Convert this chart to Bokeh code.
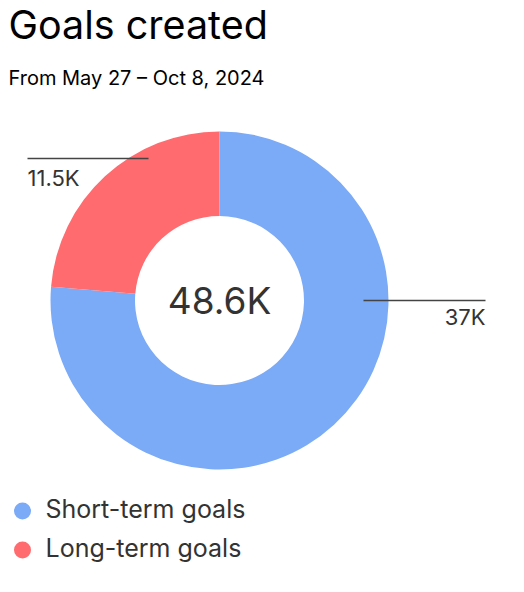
import math
from bokeh.plotting import figure
from bokeh.models import Range1d, ColumnDataSource
from bokeh.core.properties import value
from bokeh.embed import file_html
from bokeh.resources import INLINE

# ---- data ----
categories = ["Short-term goals", "Long-term goals"]
values = [37080, 11520]
value_labels = ["37K", "11.5K"]
total_label = "48.6K"
colors = ["#7BAAF7", "#FF6B6E"]
title_text = "Goals created"
subtitle_text = "From May 27 \u2013 Oct 8, 2024"

W, H = 524, 592
FONT = "Inter"

p = figure(width=W, height=H, output_backend="svg", toolbar_location=None,
           x_range=Range1d(0, W), y_range=Range1d(0, H),
           min_border=0, outline_line_color=None)
p.axis.visible = False
p.grid.visible = False
p.background_fill_color = "white"
p.border_fill_color = "white"

def Y(yp):
    return H - yp

def TY(baseline_px, size):
    # compensate for the svg backend's baseline placement
    return H - (baseline_px - 0.41 * size)

# donut
cx, cy = 219, Y(300)
total = sum(values)
frac_short = values[0] / total
frac_long = values[1] / total
starts = [math.pi / 2 - frac_short * 2 * math.pi, math.pi / 2]
ends = [math.pi / 2, math.pi / 2 + frac_long * 2 * math.pi]
src = ColumnDataSource(dict(x=[cx, cx], y=[cy, cy], start=starts, end=ends,
                            color=colors, cat=categories))
p.annular_wedge(x="x", y="y", inner_radius=84.5, outer_radius=169,
                start_angle="start", end_angle="end", color="color",
                line_color=None, source=src)

# title and subtitle
p.text(x=[8], y=[TY(41, 39.5)], text=[title_text], text_font=value(FONT),
       text_font_size="39.5px", text_color="#000000", text_baseline="alphabetic")
p.text(x=[8], y=[TY(85.5, 20)], text=[subtitle_text], text_font=value(FONT),
       text_font_size="20px", text_color="#000000", text_baseline="alphabetic")

# center total
p.text(x=[cx], y=[TY(315, 37)], text=[total_label], text_font=value(FONT),
       text_font_size="37px", text_color="#333333", text_align="center",
       text_baseline="alphabetic")

# value labels with leader lines
p.segment(x0=[27, 363], y0=[Y(158), Y(300)], x1=[148, 485], y1=[Y(158), Y(300)],
          line_color="#444444", line_width=1.6)
p.text(x=[27], y=[TY(187, 22)], text=[value_labels[1]], text_font=value(FONT),
       text_font_size="22px", text_color="#333333", text_align="left",
       text_baseline="alphabetic")
p.text(x=[485], y=[TY(326, 22)], text=[value_labels[0]], text_font=value(FONT),
       text_font_size="22px", text_color="#333333", text_align="right",
       text_baseline="alphabetic")

# legend
p.scatter(x=[22, 22], y=[Y(510.5), Y(549.5)], size=17, color=colors,
          line_color=None)
p.text(x=[45, 45], y=[TY(518.5, 25), TY(557.5, 25)], text=categories,
       text_font=value(FONT), text_font_size="25px", text_color="#333333",
       text_baseline="alphabetic")

open("out.html", "w").write(file_html(p, INLINE))
